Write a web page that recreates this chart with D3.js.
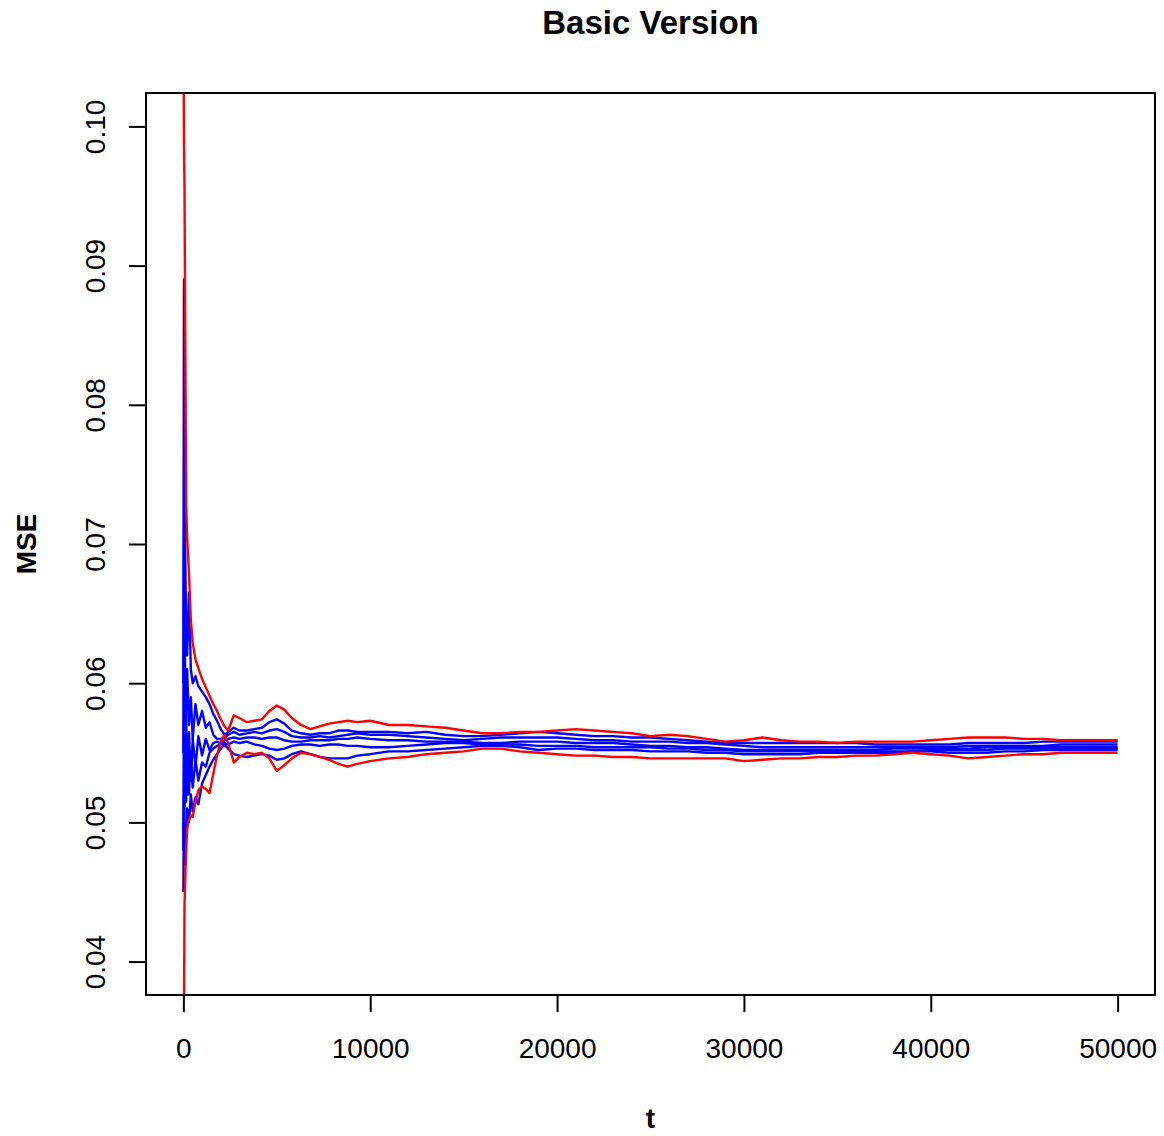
<!DOCTYPE html>
<html>
<head>
<meta charset="utf-8">
<script src="https://cdn.jsdelivr.net/npm/d3@7"></script>
<style>
  html, body { margin: 0; padding: 0; background: #fff; }
  svg { display: block; }
  text { font-family: "Liberation Sans", Arial, Helvetica, sans-serif; fill: #000; }
</style>
</head>
<body>
<svg id="chart" width="1164" height="1136"></svg>
<script>
// ---- data ----
const chartTitle = "Basic Version";
const xLabel = "t";
const yLabel = "MSE";
const xTicks = [0, 10000, 20000, 30000, 40000, 50000];
const yTicks = [0.04, 0.05, 0.06, 0.07, 0.08, 0.09, 0.10];

const tValues = [0, 30, 60, 100, 150, 200, 300, 400, 500, 650, 800, 1000, 1200, 1400, 1600, 1800,
  2000, 2200, 2400, 2700, 3000, 3400, 3800, 4200, 4600, 5000, 5400, 5800, 6300, 6800, 7300, 7800,
  8300, 8800, 9300, 10000, 11000, 12000, 13000, 14000, 15000, 16000, 17000, 18000, 19000, 20000,
  21000, 22000, 23000, 24000, 25000, 26000, 27000, 28000, 29000, 30000, 31000, 32000, 33000, 34000,
  35000, 36000, 37000, 38000, 39000, 40000, 41000, 42000, 43000, 44000, 45000, 46000, 47000, 48000,
  49000, 50000];

const redUpper = [0.1100, 0.0990, 0.0957, 0.0850, 0.0728, 0.0705, 0.0679, 0.0645, 0.0629, 0.0617, 0.0611, 0.0603, 0.0597, 0.0591, 0.0585, 0.0580,
  0.0574, 0.0569, 0.0566, 0.0577, 0.0575, 0.0572, 0.0573, 0.0574, 0.0580, 0.0584, 0.0581, 0.0575, 0.0570, 0.0567, 0.0569, 0.0571,
  0.0572, 0.0573, 0.0572, 0.0573,
  0.0570, 0.0570, 0.0569, 0.0568, 0.0566, 0.0564, 0.0564, 0.0565, 0.0565, 0.0566,
  0.0567, 0.0566, 0.0565, 0.0564, 0.0562, 0.0563, 0.0562, 0.0560, 0.0558, 0.0559,
  0.0561, 0.0559, 0.0558, 0.0558, 0.0557, 0.0558, 0.0558, 0.0558, 0.0558, 0.0559,
  0.0560, 0.0561, 0.0561, 0.0561, 0.0560, 0.0560, 0.0559, 0.0559, 0.0559, 0.0559];

const redLower = [0.0300, 0.0350, 0.0440, 0.0460, 0.0480, 0.0495, 0.0502, 0.0505, 0.0504, 0.0515, 0.0523, 0.0526, 0.0524, 0.0521, 0.0535, 0.0548,
  0.0558, 0.0563, 0.0557, 0.0543, 0.0547, 0.0550, 0.0549, 0.0550, 0.0546, 0.0537, 0.0541, 0.0546, 0.0550, 0.0549, 0.0547, 0.0545,
  0.0542, 0.0540, 0.0542, 0.0544,
  0.0546, 0.0547, 0.0549, 0.0550, 0.0551, 0.0553, 0.0553, 0.0551, 0.0550, 0.0549,
  0.0548, 0.0548, 0.0547, 0.0547, 0.0546, 0.0546, 0.0546, 0.0546, 0.0546, 0.0544,
  0.0545, 0.0546, 0.0546, 0.0547, 0.0547, 0.0548, 0.0548, 0.0549, 0.0550, 0.0549,
  0.0548, 0.0546, 0.0547, 0.0548, 0.0549, 0.0549, 0.0550, 0.0550, 0.0550, 0.0550];

const blue1 = [0.0600, 0.0890, 0.0780, 0.0690, 0.0640, 0.0620, 0.0665, 0.0610, 0.0600, 0.0605, 0.0598, 0.0594, 0.0590, 0.0585, 0.0578, 0.0573,
  0.0567, 0.0563, 0.0565, 0.0568, 0.0566, 0.0566, 0.0567, 0.0568, 0.0572, 0.0574, 0.0571, 0.0566, 0.0564, 0.0563, 0.0564, 0.0564,
  0.0566, 0.0566, 0.0565, 0.0565,
  0.0565, 0.0564, 0.0565, 0.0563, 0.0562, 0.0562, 0.0563, 0.0564, 0.0565, 0.0564,
  0.0563, 0.0562, 0.0562, 0.0561, 0.0561, 0.0560, 0.0559, 0.0558, 0.0557, 0.0557,
  0.0557, 0.0557, 0.0557, 0.0557, 0.0557, 0.0557, 0.0556, 0.0556, 0.0556, 0.0556,
  0.0556, 0.0557, 0.0557, 0.0557, 0.0557, 0.0558, 0.0558, 0.0558, 0.0558, 0.0558];

const blue2 = [0.0550, 0.0700, 0.0660, 0.0600, 0.0580, 0.0610, 0.0570, 0.0590, 0.0560, 0.0585, 0.0570, 0.0580, 0.0568, 0.0572, 0.0563, 0.0560,
  0.0560, 0.0561, 0.0563, 0.0565, 0.0563, 0.0564, 0.0565, 0.0564, 0.0566, 0.0567, 0.0565, 0.0562, 0.0561, 0.0561, 0.0562, 0.0561,
  0.0562, 0.0563, 0.0564, 0.0563,
  0.0563, 0.0562, 0.0561, 0.0560, 0.0559, 0.0560, 0.0561, 0.0561, 0.0561, 0.0561,
  0.0560, 0.0559, 0.0559, 0.0558, 0.0558, 0.0558, 0.0557, 0.0557, 0.0556, 0.0555,
  0.0554, 0.0554, 0.0554, 0.0554, 0.0554, 0.0554, 0.0554, 0.0554, 0.0554, 0.0554,
  0.0554, 0.0555, 0.0555, 0.0555, 0.0555, 0.0555, 0.0556, 0.0556, 0.0556, 0.0556];

const blue3 = [0.0500, 0.0480, 0.0620, 0.0530, 0.0580, 0.0520, 0.0565, 0.0530, 0.0560, 0.0540, 0.0562, 0.0548, 0.0560, 0.0552, 0.0557, 0.0558,
  0.0557, 0.0559, 0.0560, 0.0561, 0.0560, 0.0561, 0.0561, 0.0560, 0.0561, 0.0561, 0.0559, 0.0558, 0.0558, 0.0559, 0.0559, 0.0559,
  0.0560, 0.0560, 0.0561, 0.0560,
  0.0559, 0.0559, 0.0558, 0.0558, 0.0558, 0.0557, 0.0557, 0.0558, 0.0558, 0.0558,
  0.0557, 0.0557, 0.0557, 0.0556, 0.0555, 0.0555, 0.0554, 0.0554, 0.0553, 0.0552,
  0.0552, 0.0552, 0.0552, 0.0552, 0.0552, 0.0552, 0.0552, 0.0553, 0.0553, 0.0553,
  0.0553, 0.0553, 0.0554, 0.0554, 0.0554, 0.0554, 0.0554, 0.0554, 0.0554, 0.0554];

const blue4 = [0.0480, 0.0600, 0.0510, 0.0580, 0.0515, 0.0560, 0.0520, 0.0550, 0.0525, 0.0545, 0.0530, 0.0543, 0.0540, 0.0550, 0.0553, 0.0555,
  0.0556, 0.0557, 0.0556, 0.0558, 0.0557, 0.0558, 0.0556, 0.0555, 0.0553, 0.0552, 0.0553, 0.0555, 0.0556, 0.0556, 0.0555, 0.0556,
  0.0556, 0.0555, 0.0555, 0.0554,
  0.0554, 0.0555, 0.0556, 0.0557, 0.0557, 0.0556, 0.0556, 0.0556, 0.0555, 0.0555,
  0.0555, 0.0554, 0.0554, 0.0554, 0.0554, 0.0553, 0.0553, 0.0552, 0.0552, 0.0551,
  0.0551, 0.0551, 0.0551, 0.0551, 0.0551, 0.0551, 0.0551, 0.0551, 0.0551, 0.0552,
  0.0552, 0.0552, 0.0552, 0.0553, 0.0553, 0.0553, 0.0553, 0.0553, 0.0553, 0.0553];

const blue5 = [0.0450, 0.0520, 0.0470, 0.0500, 0.0490, 0.0510, 0.0500, 0.0520, 0.0508, 0.0518, 0.0513, 0.0528, 0.0534, 0.0540, 0.0545, 0.0549,
  0.0553, 0.0556, 0.0553, 0.0549, 0.0548, 0.0547, 0.0548, 0.0549, 0.0548, 0.0545, 0.0546, 0.0549, 0.0551, 0.0549, 0.0547, 0.0546,
  0.0546, 0.0546, 0.0548, 0.0549,
  0.0551, 0.0551, 0.0552, 0.0553, 0.0554, 0.0555, 0.0555, 0.0554, 0.0552, 0.0553,
  0.0553, 0.0552, 0.0552, 0.0552, 0.0551, 0.0551, 0.0551, 0.0550, 0.0550, 0.0549,
  0.0549, 0.0549, 0.0549, 0.0550, 0.0550, 0.0550, 0.0550, 0.0550, 0.0551, 0.0551,
  0.0550, 0.0550, 0.0550, 0.0551, 0.0551, 0.0552, 0.0552, 0.0552, 0.0552, 0.0552];

const blueSeries = [blue1, blue2, blue3, blue4, blue5];
const redSeries = [redUpper, redLower];

// ---- layout ----
const svg = d3.select("#chart");
const plot = { left: 146, right: 1155, top: 93, bottom: 995 };

const x = d3.scaleLinear().domain([-2000, 52000]).range([plot.left, plot.right]);
const y = d3.scaleLinear().domain([0.0376, 0.1024]).range([plot.bottom, plot.top]);

svg.append("defs").append("clipPath").attr("id", "plotClip")
  .append("rect")
  .attr("x", plot.left).attr("y", plot.top)
  .attr("width", plot.right - plot.left).attr("height", plot.bottom - plot.top);

const line = d3.line()
  .x((d, i) => x(tValues[i]))
  .y(d => y(d));

const lines = svg.append("g").attr("clip-path", "url(#plotClip)");
blueSeries.forEach(s => {
  lines.append("path").attr("d", line(s))
    .attr("fill", "none").attr("stroke", "#0000FF").attr("stroke-width", 2.4)
    .attr("stroke-linejoin", "round");
});
redSeries.forEach(s => {
  lines.append("path").attr("d", line(s))
    .attr("fill", "none").attr("stroke", "#FF0000").attr("stroke-width", 2.4)
    .attr("stroke-linejoin", "round");
});

// frame
svg.append("rect")
  .attr("x", plot.left).attr("y", plot.top)
  .attr("width", plot.right - plot.left).attr("height", plot.bottom - plot.top)
  .attr("fill", "none").attr("stroke", "#000").attr("stroke-width", 2);

// x axis
const xAxis = d3.axisBottom(x).tickValues(xTicks).tickSize(17).tickPadding(26)
  .tickFormat(d3.format("d"));
const gx = svg.append("g").attr("transform", `translate(0,${plot.bottom})`).call(xAxis);
gx.select(".domain").attr("d", `M${x(xTicks[0])},0H${x(xTicks[xTicks.length - 1])}`)
  .attr("stroke", "#000").attr("stroke-width", 2);
gx.selectAll(".tick line").attr("stroke", "#000").attr("stroke-width", 2);
gx.selectAll(".tick text").attr("font-size", 28).attr("font-family", "Liberation Sans, Arial, sans-serif").attr("fill", "#000");

// y axis
const yAxis = d3.axisLeft(y).tickValues(yTicks).tickSize(17).tickFormat(d3.format(".2f"));
const gy = svg.append("g").attr("transform", `translate(${plot.left},0)`).call(yAxis);
gy.select(".domain").attr("d", `M0,${y(yTicks[0])}V${y(yTicks[yTicks.length - 1])}`)
  .attr("stroke", "#000").attr("stroke-width", 2);
gy.selectAll(".tick line").attr("stroke", "#000").attr("stroke-width", 2);
gy.selectAll(".tick text")
  .attr("font-size", 28).attr("font-family", "Liberation Sans, Arial, sans-serif").attr("fill", "#000")
  .attr("x", null).attr("dy", null)
  .attr("transform", "translate(-41,0) rotate(-90)")
  .attr("text-anchor", "middle");

// title & labels
svg.append("text").attr("x", (plot.left + plot.right) / 2).attr("y", 34)
  .attr("text-anchor", "middle").attr("font-size", 33).attr("font-weight", "bold")
  .text(chartTitle);
svg.append("text").attr("x", (plot.left + plot.right) / 2).attr("y", 1128)
  .attr("text-anchor", "middle").attr("font-size", 28).attr("font-weight", "bold")
  .text(xLabel);
svg.append("text")
  .attr("transform", `translate(36,${(plot.top + plot.bottom) / 2}) rotate(-90)`)
  .attr("text-anchor", "middle").attr("font-size", 28).attr("font-weight", "bold")
  .text(yLabel);
</script>
</body>
</html>
